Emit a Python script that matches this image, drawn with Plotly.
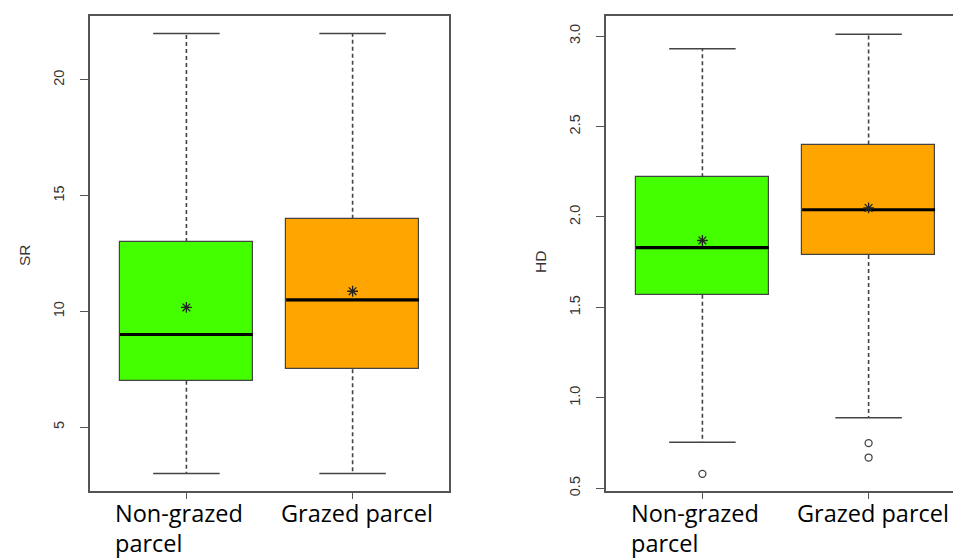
import plotly.graph_objects as go

# ---------------- data ----------------
groups = ["Non-grazed parcel", "Grazed parcel"]
group_label_lines = [["Non-grazed", "parcel"], ["Grazed parcel"]]
group_pos = [1, 2]
box_colors = ["#44ff00", "#ffa500"]

sr_lower = [3.0, 3.0]
sr_q1 = [7.0, 7.5]
sr_median = [9.0, 10.5]
sr_q3 = [13.0, 14.0]
sr_upper = [22.0, 22.0]
sr_mean = [10.17, 10.87]
sr_outliers = [[], []]

hd_lower = [0.755, 0.89]
hd_q1 = [1.57, 1.79]
hd_median = [1.83, 2.04]
hd_q3 = [2.22, 2.40]
hd_upper = [2.93, 3.01]
hd_mean = [1.87, 2.05]
hd_outliers = [[0.58], [0.75, 0.67]]

sr_ticks = [5, 10, 15, 20]
hd_ticks = [0.5, 1.0, 1.5, 2.0, 2.5, 3.0]
hd_ticktext = ["0.5", "1.0", "1.5", "2.0", "2.5", "3.0"]

# ---------------- style ----------------
W, H = 953, 560
BOX_HALF = 0.4
CAP_HALF = 0.2
LINE = "#444444"
AXIS = "#555555"

fig = go.Figure()


def add_panel(xa, ya, lower, q1, med, q3, upper, mean, outliers):
    for i, x in enumerate(group_pos):
        # box body
        fig.add_trace(go.Bar(
            x=[x], y=[q3[i] - q1[i]], base=[q1[i]], width=2 * BOX_HALF,
            marker=dict(color=box_colors[i], line=dict(color=LINE, width=1.2)),
            xaxis=xa, yaxis=ya, showlegend=False, hoverinfo="skip"))
        # whiskers (dashed)
        fig.add_trace(go.Scatter(
            x=[x, x, None, x, x], y=[q3[i], upper[i], None, q1[i], lower[i]],
            mode="lines", line=dict(color=LINE, width=1.6, dash="4px,3px"),
            xaxis=xa, yaxis=ya, showlegend=False, hoverinfo="skip"))
        # caps
        fig.add_trace(go.Scatter(
            x=[x - CAP_HALF, x + CAP_HALF, None, x - CAP_HALF, x + CAP_HALF],
            y=[upper[i], upper[i], None, lower[i], lower[i]],
            mode="lines", line=dict(color=LINE, width=1.5),
            xaxis=xa, yaxis=ya, showlegend=False, hoverinfo="skip"))
        # median
        fig.add_trace(go.Scatter(
            x=[x - BOX_HALF, x + BOX_HALF], y=[med[i], med[i]],
            mode="lines", line=dict(color="black", width=3.2),
            xaxis=xa, yaxis=ya, showlegend=False, hoverinfo="skip"))
        # mean
        fig.add_trace(go.Scatter(
            x=[x], y=[mean[i]], mode="markers",
            marker=dict(symbol="asterisk-open", size=9, color="#222222",
                        line=dict(color="#222222", width=1.3)),
            xaxis=xa, yaxis=ya, showlegend=False, hoverinfo="skip"))
        # outliers
        if outliers[i]:
            fig.add_trace(go.Scatter(
                x=[x] * len(outliers[i]), y=outliers[i], mode="markers",
                marker=dict(symbol="circle-open", size=7, color=LINE,
                            line=dict(color=LINE, width=1.3)),
                xaxis=xa, yaxis=ya, showlegend=False, hoverinfo="skip"))


add_panel("x", "y", sr_lower, sr_q1, sr_median, sr_q3, sr_upper, sr_mean, sr_outliers)
add_panel("x2", "y2", hd_lower, hd_q1, hd_median, hd_q3, hd_upper, hd_mean, hd_outliers)

PXU = 166.2  # px per x unit
x1_dom = [90 / W, 449 / W]
x2_dom = [606 / W, 1.0]
x2_range = [0.42, 0.42 + (W - 606) / PXU]
y_dom = [1 - 491 / H, 1 - 16 / H]

common_x = dict(showgrid=False, zeroline=False, showline=True, linecolor=AXIS,
                linewidth=1.5, ticks="outside", ticklen=6, tickcolor=AXIS,
                tickwidth=1.3, tickvals=group_pos, showticklabels=False,
                automargin=False, fixedrange=True)
common_y = dict(showgrid=False, zeroline=False, showline=True, linecolor=AXIS,
                linewidth=1.5, ticks="outside", ticklen=8, tickcolor=AXIS,
                tickwidth=1.3, tickangle=-90, ticklabelstandoff=10,
                tickfont=dict(family="Liberation Sans, Arial", size=14.5, color="#333333"),
                automargin=False, fixedrange=True)

fig.update_layout(
    width=W, height=H,
    margin=dict(l=0, r=0, t=0, b=0),
    paper_bgcolor="white", plot_bgcolor="white",
    bargap=0, barmode="overlay",
    xaxis=dict(domain=x1_dom, range=[0.42, 2.58], mirror=True, **common_x),
    yaxis=dict(domain=y_dom, range=[2.24, 22.76], tickvals=sr_ticks, mirror=True, **common_y),
    xaxis2=dict(domain=x2_dom, range=x2_range, mirror=True, anchor="y2", **common_x),
    yaxis2=dict(domain=y_dom, range=[0.485, 3.111], tickvals=hd_ticks, ticktext=hd_ticktext,
                mirror=False, anchor="x2", **common_y),
)

label_font = dict(family="Open Sans", size=23.5, color="black")
title_font = dict(family="Liberation Sans, Arial", size=15.5, color="#333333")
ann = []
# axis titles
ann.append(dict(text="SR", x=25 / W, y=1 - 255 / H, xref="paper", yref="paper",
                xanchor="center", yanchor="middle",
                textangle=-90, showarrow=False, font=title_font))
ann.append(dict(text="HD", x=540 / W, y=1 - 262 / H, xref="paper", yref="paper",
                xanchor="center", yanchor="middle",
                textangle=-90, showarrow=False, font=title_font))
# category labels (left aligned text boxes under each box)
for xl, xg in [(114, 280), (630, 796)]:
    ann.append(dict(text=group_label_lines[0][0], x=xl / W, y=1 - 496 / H,
                    xref="paper", yref="paper", xanchor="left", yanchor="top",
                    align="left", showarrow=False, font=label_font, borderpad=0))
    ann.append(dict(text=group_label_lines[0][1], x=xl / W, y=0,
                    xref="paper", yref="paper", xanchor="left", yanchor="bottom",
                    align="left", showarrow=False, font=label_font, borderpad=0))
    ann.append(dict(text=group_label_lines[1][0], x=xg / W, y=1 - 496 / H,
                    xref="paper", yref="paper", xanchor="left", yanchor="top",
                    align="left", showarrow=False, font=label_font, borderpad=0))
fig.update_layout(annotations=ann)

fig.write_html("out.html", post_script="document.body.style.margin='0';",
               config={"displayModeBar": False})
